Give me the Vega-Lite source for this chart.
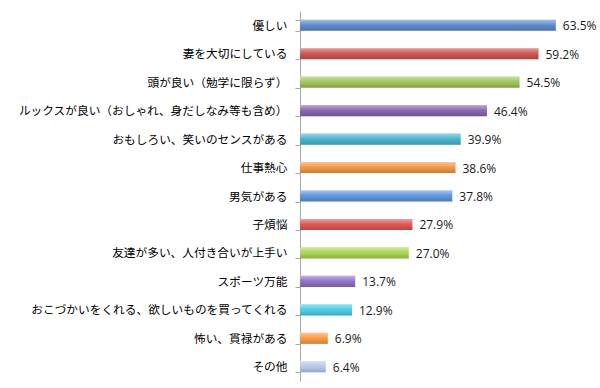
{
  "$schema": "https://vega.github.io/schema/vega-lite/v6.json",
  "width": 282,
  "height": 370,
  "autosize": {"type": "none"},
  "padding": {"left": 300, "top": 11, "right": 18, "bottom": 7},
  "background": "white",
  "config": {"view": {"stroke": null}},
  "data": {
    "values": [
      {"item": "優しい", "value": 0.635},
      {"item": "妻を大切にしている", "value": 0.592},
      {"item": "頭が良い（勉学に限らず）", "value": 0.545},
      {"item": "ルックスが良い（おしゃれ、身だしなみ等も含め）", "value": 0.464},
      {"item": "おもしろい、笑いのセンスがある", "value": 0.399},
      {"item": "仕事熱心", "value": 0.386},
      {"item": "男気がある", "value": 0.378},
      {"item": "子煩悩", "value": 0.279},
      {"item": "友達が多い、人付き合いが上手い", "value": 0.270},
      {"item": "スポーツ万能", "value": 0.137},
      {"item": "おこづかいをくれる、欲しいものを買ってくれる", "value": 0.129},
      {"item": "怖い、貫禄がある", "value": 0.069},
      {"item": "その他", "value": 0.064}
    ]
  },
  "encoding": {
    "y": {
      "field": "item",
      "type": "nominal",
      "sort": null,
      "scale": {"paddingInner": 0.61, "paddingOuter": 0.305},
      "axis": {
        "title": null,
        "labelFont": "Noto Sans CJK JP",
        "labelFontSize": 11.7,
        "labelColor": "#000000",
        "labelPadding": 8,
        "labelLimit": 400,
        "tickBand": "extent",
        "tickSize": 5,
        "tickColor": "#A8A8A8",
        "domainColor": "#A8A8A8"
      }
    },
    "x": {
      "field": "value",
      "type": "quantitative",
      "scale": {"domain": [0, 0.7]},
      "axis": null
    }
  },
  "layer": [
    {
      "mark": {"type": "bar"},
      "encoding": {
        "fill": {
          "field": "item",
          "type": "nominal",
          "legend": null,
          "scale": {
            "domain": ["優しい", "妻を大切にしている", "頭が良い（勉学に限らず）", "ルックスが良い（おしゃれ、身だしなみ等も含め）", "おもしろい、笑いのセンスがある", "仕事熱心", "男気がある", "子煩悩", "友達が多い、人付き合いが上手い", "スポーツ万能", "おこづかいをくれる、欲しいものを買ってくれる", "怖い、貫禄がある", "その他"],
            "range": ["#5B8BCB", "#CC5552", "#9DC35C", "#8667AC", "#4AB3CD", "#F29645", "#5E94DE", "#E05555", "#A8D650", "#9070C4", "#4CCBE6", "#FA9A42", "#B4C8EA"]
          }
        }
      }
    },
    {
      "mark": {
        "type": "bar",
        "fill": {
          "gradient": "linear", "x1": 0, "y1": 0, "x2": 0, "y2": 1,
          "stops": [
            {"offset": 0, "color": "rgba(255,255,255,0.45)"},
            {"offset": 0.45, "color": "rgba(255,255,255,0.05)"},
            {"offset": 0.55, "color": "rgba(0,0,0,0)"},
            {"offset": 1, "color": "rgba(0,0,0,0.18)"}
          ]
        }
      },
      "encoding": {}
    },
    {
      "mark": {"type": "text", "align": "left", "baseline": "middle", "dx": 7, "dy": 1, "font": "Open Sans", "fontSize": 12, "color": "#1A1A1A"},
      "encoding": {
        "text": {"field": "value", "type": "quantitative", "format": ".1%"}
      }
    }
  ]
}
